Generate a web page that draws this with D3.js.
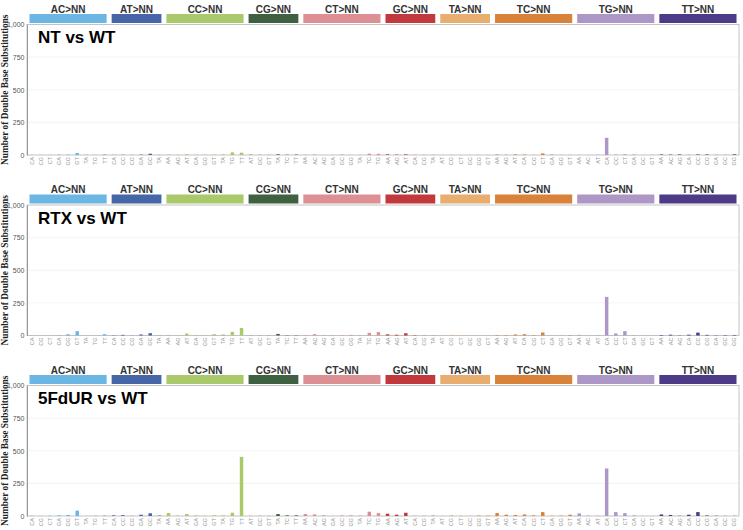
<!DOCTYPE html>
<html>
<head>
<meta charset="utf-8">
<script src="https://cdn.jsdelivr.net/npm/d3@7"></script>
<style>
  body { margin: 0; background: #fff; }
  svg { display: block; }
</style>
</head>
<body>
<div id="chart"></div>
<script>
// DBS78 classes: the reference group and its 2-base outcomes
const groups = ["AC>NN", "AT>NN", "CC>NN", "CG>NN", "CT>NN", "GC>NN", "TA>NN", "TC>NN", "TG>NN", "TT>NN"];
const outcomes = [
  ["CA", "CG", "CT", "GA", "GG", "GT", "TA", "TG", "TT"],
  ["CA", "CC", "CG", "GA", "GC", "TA"],
  ["AA", "AG", "AT", "GA", "GG", "GT", "TA", "TG", "TT"],
  ["AT", "GC", "GT", "TA", "TC", "TT"],
  ["AA", "AC", "AG", "GA", "GC", "GG", "TA", "TC", "TG"],
  ["AA", "AG", "AT", "CA", "CG", "TA"],
  ["AT", "CG", "CT", "GC", "GG", "GT"],
  ["AA", "AG", "AT", "CA", "CG", "CT", "GA", "GG", "GT"],
  ["AA", "AC", "AT", "CA", "CC", "CT", "GA", "GC", "GT"],
  ["AA", "AC", "AG", "CA", "CC", "CG", "GA", "GC", "GG"]
];
const groupColors = ["#6cb6e3", "#4766a8", "#a9c96b", "#3f6141", "#dc9094", "#c1393c", "#e8ae70", "#d9823a", "#ad97c6", "#4e3b87"];

const panelTitles = ["NT vs WT", "RTX vs WT", "5FdUR vs WT"];

// counts, 78 per panel, in the order of groups/outcomes above
const ntCounts = [
  1, 1, 1, 3, 3, 15, 2, 1, 5,
  1, 2, 1, 3, 10, 1,
  3, 2, 6, 2, 2, 3, 4, 20, 18,
  2, 1, 1, 5, 2, 3,
  2, 4, 1, 1, 4, 1, 1, 10, 9,
  5, 3, 5, 1, 1, 1,
  1, 2, 1, 1, 2, 1,
  4, 2, 5, 3, 1, 12, 3, 1, 1,
  1, 1, 2, 132, 3, 5, 3, 1, 2,
  4, 3, 4, 1, 4, 4, 1, 1, 5
];
const rtxCounts = [
  1, 1, 1, 3, 10, 33, 1, 1, 10,
  2, 5, 1, 8, 18, 1,
  5, 2, 15, 3, 3, 10, 8, 28, 58,
  1, 1, 1, 12, 2, 2,
  3, 10, 3, 2, 3, 5, 2, 20, 26,
  9, 6, 17, 3, 1, 1,
  1, 5, 2, 1, 1, 1,
  4, 3, 8, 10, 3, 23, 1, 1, 3,
  5, 1, 2, 296, 16, 33, 2, 1, 1,
  4, 6, 2, 6, 22, 5, 2, 3, 4
];
const fdurCounts = [
  2, 1, 2, 5, 8, 41, 1, 2, 4,
  5, 6, 1, 10, 21, 3,
  23, 3, 15, 5, 2, 5, 5, 25, 453,
  1, 1, 1, 15, 5, 5,
  15, 12, 5, 1, 4, 5, 3, 33, 22,
  18, 10, 25, 1, 1, 2,
  1, 5, 3, 1, 6, 5,
  23, 10, 8, 12, 5, 30, 2, 3, 10,
  20, 3, 2, 364, 30, 22, 4, 1, 1,
  12, 8, 2, 10, 30, 4, 2, 1, 1
];
const panelCounts = [ntCounts, rtxCounts, fdurCounts];

const yTicks = [0, 250, 500, 750, 1000];

const W = 743, H = 530;
const panelTop = [24.5, 205, 385.5];
const plotH = 130.5;
const x0 = 28, x1 = 738;

// flatten categories
const cats = [];
groups.forEach((g, gi) => outcomes[gi].forEach(o => cats.push({ key: g + ":" + o, group: g, gi: gi, label: o })));

const svg = d3.select("#chart").append("svg")
  .attr("width", W)
  .attr("height", H);

const x = d3.scaleBand()
  .domain(cats.map(c => c.key))
  .range([x0, x1])
  .paddingInner(0.62)
  .paddingOuter(0.2);

const step = x.step();

panelCounts.forEach((counts, pi) => {
  const top = panelTop[pi];
  const y = d3.scaleLinear().domain([0, 1000]).range([top + plotH, top]);
  const g = svg.append("g").attr("class", "panel");

  // header strips
  groups.forEach((grp, gi) => {
    const first = cats.findIndex(c => c.gi === gi);
    const n = outcomes[gi].length;
    const gx0 = x(cats[first].key) - (step - x.bandwidth()) / 2 + 2.5;
    const gx1 = x(cats[first + n - 1].key) + x.bandwidth() + (step - x.bandwidth()) / 2 - 2.5;
    g.append("rect")
      .attr("x", gx0)
      .attr("y", top - 10.5)
      .attr("width", gx1 - gx0)
      .attr("height", 9)
      .attr("fill", groupColors[gi]);
    g.append("text")
      .attr("x", (gx0 + gx1) / 2)
      .attr("y", top - 15.5)
      .attr("text-anchor", "middle")
      .attr("dominant-baseline", "central")
      .attr("font-family", "Liberation Sans, Arial, sans-serif")
      .attr("font-weight", "bold")
      .attr("font-size", 10)
      .attr("fill", "#333")
      .text(grp);
  });

  // gridlines
  g.selectAll("line.grid")
    .data(yTicks.filter(t => t > 0 && t < 1000))
    .enter().append("line")
    .attr("class", "grid")
    .attr("x1", x0).attr("x2", x1 + 1)
    .attr("y1", d => y(d)).attr("y2", d => y(d))
    .attr("stroke", "#f0f0f0")
    .attr("stroke-width", 0.8);

  // frame
  g.append("rect")
    .attr("x", x0 - 1)
    .attr("y", top)
    .attr("width", x1 - x0 + 2)
    .attr("height", plotH)
    .attr("fill", "none")
    .attr("stroke", "#b5b5b5")
    .attr("stroke-width", 0.8);

  // y axis
  const yAxis = d3.axisLeft(y)
    .tickValues(yTicks)
    .tickSize(0)
    .tickPadding(2.5)
    .tickFormat(d3.format(","));
  const ya = g.append("g")
    .attr("transform", `translate(${x0 - 1},0)`)
    .call(yAxis);
  ya.select(".domain").attr("stroke", "#999");
  ya.selectAll("text")
    .attr("font-family", "Liberation Sans, Arial, sans-serif")
    .attr("font-size", 7)
    .attr("fill", "#555");

  // y label
  g.append("text")
    .attr("transform", `translate(5,${top + plotH / 2}) rotate(-90)`)
    .attr("text-anchor", "middle")
    .attr("dominant-baseline", "central")
    .attr("font-family", "Liberation Serif, Times New Roman, serif")
    .attr("font-weight", "bold")
    .attr("font-size", 9.4)
    .attr("fill", "#222")
    .text("Number of Double Base Substitutions");

  // bars
  g.selectAll("rect.bar")
    .data(cats.map((c, i) => ({ c: c, v: counts[i] })))
    .enter().append("rect")
    .attr("class", "bar")
    .attr("x", d => x(d.c.key))
    .attr("y", d => y(d.v))
    .attr("width", x.bandwidth())
    .attr("height", d => y(0) - y(d.v))
    .attr("fill", d => groupColors[d.c.gi]);

  // x tick labels
  g.selectAll("text.xl")
    .data(cats)
    .enter().append("text")
    .attr("class", "xl")
    .attr("transform", d => `translate(${x(d.key) + x.bandwidth() / 2},${top + plotH + 2}) rotate(-90)`)
    .attr("text-anchor", "end")
    .attr("dominant-baseline", "central")
    .attr("font-family", "Liberation Sans, Arial, sans-serif")
    .attr("font-size", 5.5)
    .attr("fill", "#999")
    .text(d => d.label);

  // panel title
  g.append("text")
    .attr("x", 38)
    .attr("y", top + 13)
    .attr("dominant-baseline", "central")
    .attr("font-family", "Liberation Sans, Arial, sans-serif")
    .attr("font-weight", "bold")
    .attr("font-size", 17)
    .attr("fill", "#000")
    .text(panelTitles[pi]);
});
</script>
</body>
</html>
